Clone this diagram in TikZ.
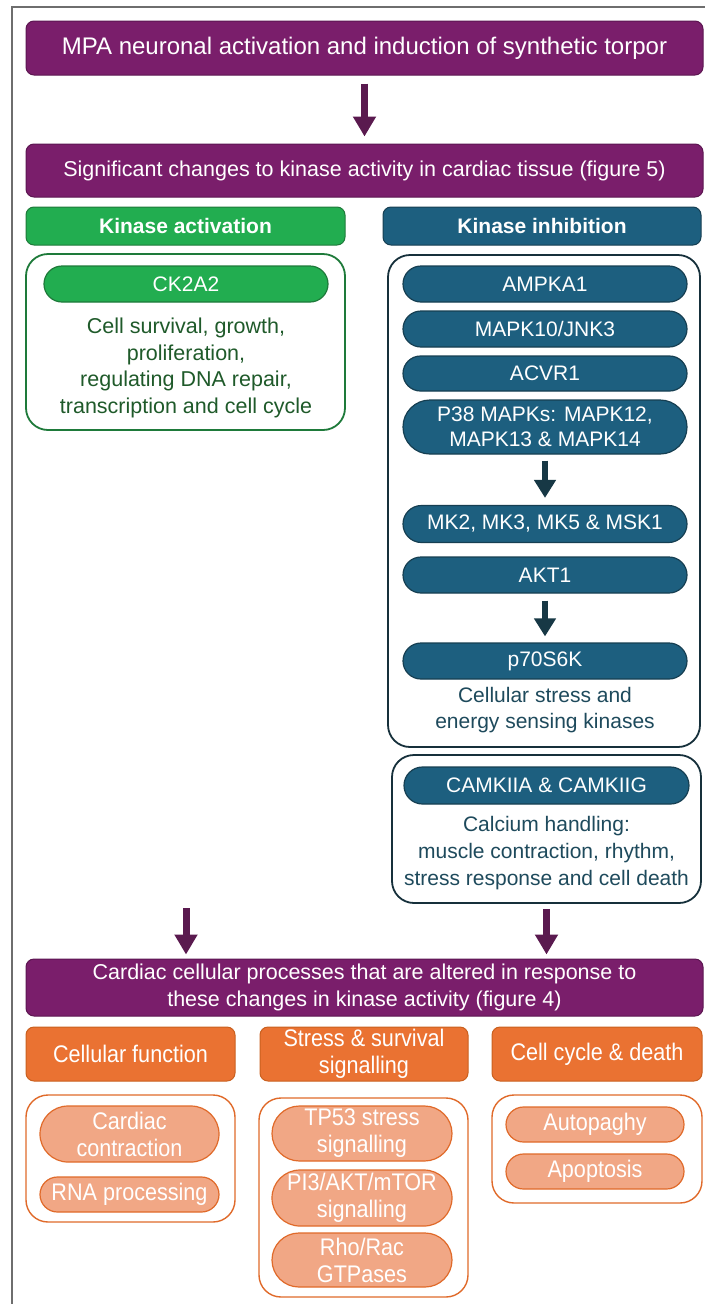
\documentclass[tikz,border=0pt]{standalone}
\usepackage{fontspec}
\setmainfont{Liberation Sans}
\newfontfamily\narrowf{Liberation Sans}[FakeStretch=0.9]
\usetikzlibrary{arrows.meta,shapes.misc}
\definecolor{purpleF}{HTML}{7A1E6B}
\definecolor{purpleD}{HTML}{5C1651}
\definecolor{purpleA}{HTML}{5A1A4F}
\definecolor{greenF}{HTML}{22AD50}
\definecolor{greenD}{HTML}{1E7A3A}
\definecolor{greenT}{HTML}{1F5A2A}
\definecolor{blueF}{HTML}{1D5F7F}
\definecolor{blueD}{HTML}{163F52}
\definecolor{blueC}{HTML}{16303B}
\definecolor{blueT}{HTML}{1E4A5C}
\definecolor{blueA}{HTML}{173845}
\definecolor{orangeF}{HTML}{EA7232}
\definecolor{orangeD}{HTML}{C9601F}
\definecolor{orangeP}{HTML}{F1A785}
\definecolor{orangeB}{HTML}{E06A2A}
\definecolor{frameG}{HTML}{6E6E6E}
\begin{document}
\begin{tikzpicture}[x=1pt,y=-1pt,
  box/.style={rectangle, rounded corners=8pt, draw, line width=1pt, align=center, inner sep=0pt},
  pbox/.style={box, fill=purpleF, draw=purpleD, text=white},
  ghead/.style={box, fill=greenF, draw=greenD, text=white, font=\fontsize{21}{25}\selectfont\bfseries},
  bhead/.style={box, fill=blueF, draw=blueD, text=white, font=\fontsize{21}{25}\selectfont\bfseries},
  ohead/.style={box, fill=orangeF, draw=orangeD, text=white, font=\narrowf\fontsize{24}{27}\selectfont},
  cont/.style={rectangle, rounded corners=22pt, line width=1.8pt, fill=white, inner sep=0pt},
  pill/.style={rounded rectangle, line width=1.2pt, align=center, inner sep=0pt},
  gpill/.style={pill, fill=greenF, draw=greenD, text=white, font=\fontsize{21}{25}\selectfont},
  bpill/.style={pill, fill=blueF, draw=blueD, text=white, font=\fontsize{21}{25}\selectfont},
  opill/.style={pill, fill=orangeP, draw=orangeB, text=white, font=\narrowf\fontsize{24}{27}\selectfont},
  txt/.style={align=center, inner sep=0pt},
  parrow/.style={-{Triangle[width=22pt,length=20pt]}, line width=7pt, draw=purpleA},
  barrow/.style={-{Triangle[width=21pt,length=18pt]}, line width=6.5pt, draw=blueA}
]
\useasboundingbox (0,0) rectangle (705,1304);
\draw[frameG, line width=2.2pt] (12,1304) -- (12,7) -- (705,7);

% top
\node[pbox, minimum width=677pt, minimum height=54pt, font=\fontsize{24}{28}\selectfont] (top) at (364.5,48) {MPA neuronal activation and induction of synthetic torpor};
\node[pbox, minimum width=677pt, minimum height=53pt, font=\fontsize{21.5}{26}\selectfont] (sig) at (364.5,170.5) {Significant changes to kinase activity in cardiac tissue (figure 5)};
\draw[parrow, shorten <=8pt, shorten >=7pt] (top.south) -- (sig.north);

% headers
\node[ghead, minimum width=319pt, minimum height=38pt] (hact) at (185.5,226) {Kinase activation};
\node[bhead, minimum width=318pt, minimum height=38pt] (hinh) at (542,226) {Kinase inhibition};

% activation container
\node[cont, draw=greenD, minimum width=319pt, minimum height=176pt] (cact) at (185.5,342) {};
\node[gpill, minimum width=284pt, minimum height=36pt] (ck) at (186,284) {CK2A2};
\node[txt, text=greenT, font=\fontsize{21.5}{26.5}\selectfont] (ckt) at (186,368) {Cell survival, growth,\\proliferation,\\regulating DNA repair,\\transcription and cell cycle};

% inhibition container
\node[cont, draw=blueC, minimum width=312pt, minimum height=492pt] (cinh) at (544,501) {};
\node[bpill, minimum width=284pt, minimum height=36pt] (ampk) at (545,284) {AMPKA1};
\node[bpill, minimum width=284pt, minimum height=36pt] (mapk10) at (545,329) {MAPK10/JNK3};
\node[bpill, minimum width=284pt, minimum height=35pt] (acvr) at (545,373.5) {ACVR1};
\node[bpill, minimum width=284pt, minimum height=54pt] (p38) at (545,427) {P38 MAPKs: MAPK12,\\MAPK13 \& MAPK14};
\node[bpill, minimum width=284pt, minimum height=37pt] (mk2) at (545,524) {MK2, MK3, MK5 \& MSK1};
\node[bpill, minimum width=284pt, minimum height=36pt] (akt) at (545,575) {AKT1};
\node[bpill, minimum width=284pt, minimum height=36pt] (p70) at (545,661) {p70S6K};
\node[txt, text=blueT, font=\fontsize{21}{26}\selectfont] (inht) at (545,710) {Cellular stress and\\energy sensing kinases};
\draw[barrow, shorten <=6pt, shorten >=7pt] (p38.south) -- (mk2.north);
\draw[barrow, shorten <=7pt, shorten >=6pt] (akt.south) -- (p70.north);

% calcium container
\node[cont, draw=blueC, minimum width=309pt, minimum height=148pt] (ccam) at (546.5,829) {};
\node[bpill, minimum width=285pt, minimum height=37pt] (cam) at (546.5,785.5) {CAMKIIA \& CAMKIIG};
\node[txt, text=blueT, font=\fontsize{21}{27}\selectfont] (camt) at (546.5,853) {Calcium handling:\\muscle contraction, rhythm,\\stress response and cell death};

% processes
\node[pbox, minimum width=677pt, minimum height=57pt, font=\fontsize{21.5}{27}\selectfont] (proc) at (364.5,987.5) {Cardiac cellular processes that are altered in response to\\these changes in kinase activity (figure 4)};
\coordinate (lstart) at (186,908);
\draw[parrow, shorten >=4pt] (lstart) -- (lstart |- proc.north);
\draw[parrow, shorten <=5pt, shorten >=4pt] (ccam.south) -- (ccam.south |- proc.north);

% orange headers
\node[ohead, minimum width=209pt, minimum height=54pt] (hcf) at (130.5,1054) {Cellular function};
\node[ohead, minimum width=208pt, minimum height=54pt] (hss) at (364,1054) {Stress \& survival\\signalling};
\node[ohead, minimum width=210pt, minimum height=54pt] (hcc) at (597,1054) {Cell cycle \& death};

% orange containers
\node[cont, draw=orangeB, line width=1.4pt, minimum width=209pt, minimum height=127pt] (ccf) at (130.5,1158.5) {};
\node[cont, draw=orangeB, line width=1.4pt, minimum width=209pt, minimum height=199pt] (css) at (363.5,1197.5) {};
\node[cont, draw=orangeB, line width=1.4pt, minimum width=210pt, minimum height=108pt] (ccc) at (597,1149) {};

\node[opill, minimum width=179pt, minimum height=56pt] (card) at (129.5,1134) {Cardiac\\contraction};
\node[opill, minimum width=179pt, minimum height=35pt] (rna) at (129.5,1194.5) {RNA processing};
\node[opill, minimum width=180pt, minimum height=55pt] (tp53) at (362,1133.5) {TP53 stress\\signalling};
\node[opill, minimum width=180pt, minimum height=56pt] (pi3) at (362,1198) {PI3/AKT/mTOR\\signalling};
\node[opill, minimum width=180pt, minimum height=54pt] (rho) at (362,1260) {Rho/Rac\\GTPases};
\node[opill, minimum width=178pt, minimum height=35pt] (auto) at (595,1124.5) {Autopaghy};
\node[opill, minimum width=178pt, minimum height=35pt] (apo) at (595,1171.5) {Apoptosis};
\end{tikzpicture}
\end{document}
